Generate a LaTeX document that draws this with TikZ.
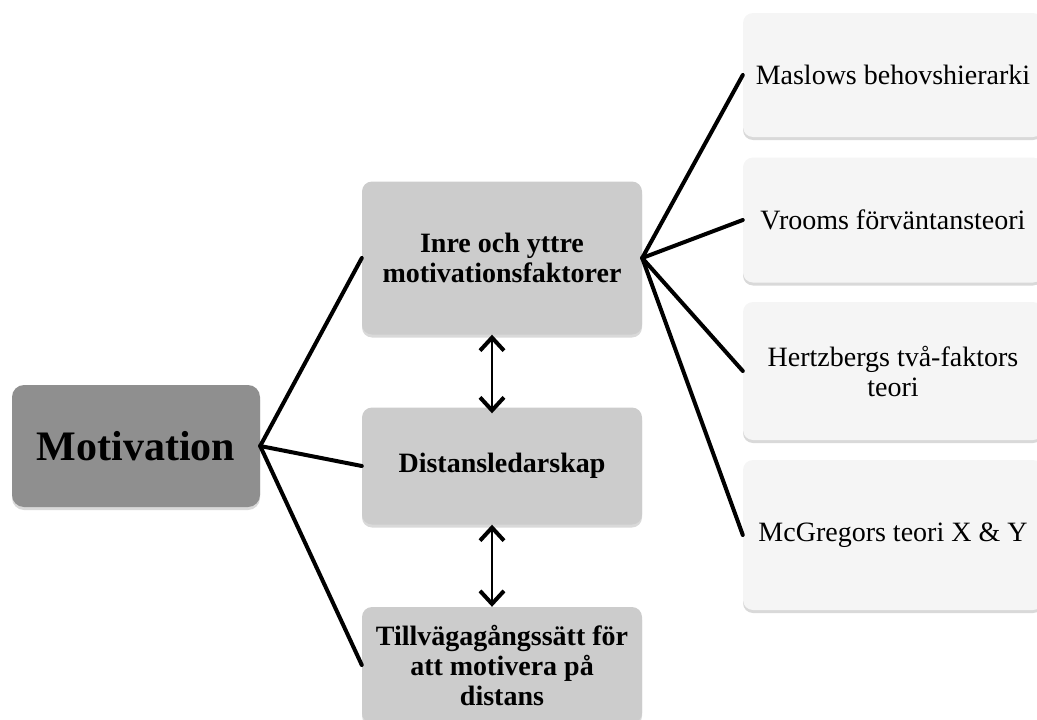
\documentclass[tikz,border=0pt]{standalone}
\usepackage{fontspec}
\setmainfont{Liberation Serif}
\usepackage{tikz}
\usetikzlibrary{arrows.meta,positioning,shadows}

\begin{document}
\begin{tikzpicture}[
  x=1pt, y=-1pt,
  font=\fontsize{28}{30}\selectfont,
  shade/.style={drop shadow={opacity=0.3, shadow xshift=0pt, shadow yshift=-3pt}},
  mainbox/.style={shade, fill=black!44, rounded corners=12pt, align=center,
              minimum width=248pt, minimum height=122pt, inner sep=2pt},
  midbox/.style={shade, fill=black!20, rounded corners=10pt, align=center,
              minimum width=280pt, inner sep=2pt},
  theorybox/.style={shade, fill=black!4, rounded corners=10pt, align=center,
              minimum width=300pt, inner sep=2pt},
  link/.style={line width=4pt, line cap=round},
  dblarrow/.style={{Straight Barb[length=13pt,width=24pt,line width=4pt]}-{Straight Barb[length=13pt,width=24pt,line width=4pt]}, line width=2.5pt}
]
\useasboundingbox (0,0) rectangle (1037,720);
\node[mainbox] (motiv) at (136,446) {\fontsize{42}{46}\selectfont\bfseries Motivation};
\node[midbox, minimum height=153pt] (inre) at (502,258) {\bfseries Inre och yttre\\\bfseries motivationsfaktorer};
\node[midbox, minimum height=117pt] (distans) at (502,466) {\bfseries Distansledarskap};
\node[midbox, minimum height=116pt] (tillv) at (502,665) {\bfseries Tillvägagångssätt för\\\bfseries att motivera på\\\bfseries distans};
\node[theorybox, minimum height=124pt] (maslow) at (893,75) {Maslows behovshierarki};
\node[theorybox, minimum height=125pt] (vroom) at (893,220) {Vrooms förväntansteori};
\node[theorybox, minimum height=138pt] (hertz) at (893,371) {Hertzbergs två-faktors\\teori};
\node[theorybox, minimum height=150pt] (mcg) at (893,535) {McGregors teori X \& Y};
\draw[link] (motiv.east)--(inre.west);
\draw[link] (motiv.east)--(distans.west);
\draw[link] (motiv.east)--(tillv.west);
\draw[link] (inre.east)--(maslow.west);
\draw[link] (inre.east)--(vroom.west);
\draw[link] (inre.east)--(hertz.west);
\draw[link] (inre.east)--(mcg.west);
\draw[dblarrow] ([xshift=-10pt]inre.south)--([xshift=-10pt,yshift=-6pt]distans.north);
\draw[dblarrow] ([xshift=-10pt]distans.south)--([xshift=-10pt]tillv.north);
\end{tikzpicture}
\end{document}
